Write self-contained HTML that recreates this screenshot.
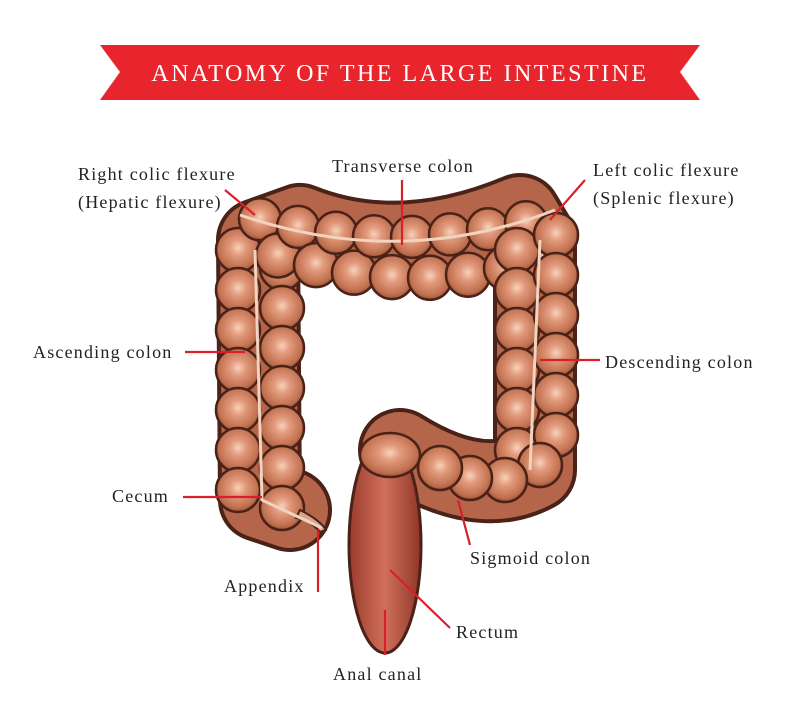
<!DOCTYPE html>
<html><head><meta charset="utf-8"><style>
html,body{margin:0;padding:0;background:#fff;}
svg{display:block}
text{font-family:"Liberation Serif",serif;font-size:18px;letter-spacing:1.2px;fill:#222}
</style></head><body>
<svg id="s" width="800" height="720" viewBox="0 0 800 720">
<defs>
<radialGradient id="g" cx="0.5" cy="0.45" r="0.6">
<stop offset="0" stop-color="#f6d2bc"/><stop offset="0.3" stop-color="#e29a7c"/><stop offset="0.75" stop-color="#c0704f"/><stop offset="1" stop-color="#8a4430"/>
</radialGradient>
<linearGradient id="rg" x1="0" x2="1"><stop offset="0" stop-color="#9b3b2c"/><stop offset="0.5" stop-color="#d0705a"/><stop offset="1" stop-color="#8f3527"/></linearGradient>
</defs>
<polygon points="100,45 700,45 680,72 700,100 100,100 120,72" fill="#e8242c"/>
<text x="400" y="81" text-anchor="middle" style="font-size:24px;fill:#fff;letter-spacing:2.5px">ANATOMY OF THE LARGE INTESTINE</text>
<g id="gut">
<path d="M290,510 L260,500 L258,240 L300,225 Q400,265 520,215 L535,240 L535,470 Q480,500 400,450" fill="none" stroke="#4a2218" stroke-width="84" stroke-linejoin="round" stroke-linecap="round"/>
<path d="M290,510 L260,500 L258,240 L300,225 Q400,265 520,215 L535,240 L535,470 Q480,500 400,450" fill="none" stroke="#b4654a" stroke-width="76" stroke-linejoin="round" stroke-linecap="round"/>
</g>
<g id="c"></g>
<path d="M300,510 Q320,520 326,530 L320,532 Q310,520 296,518Z" fill="#d8a48c" stroke="#4a2218" stroke-width="2"/>
<ellipse cx="385" cy="545" rx="36" ry="108" fill="url(#rg)" stroke="#4a2218" stroke-width="3"/>
<ellipse cx="390" cy="455" rx="30" ry="22" fill="url(#g)" stroke="#4a2218" stroke-width="2.5"/>
<g stroke="#f0d4c0" stroke-width="3" fill="none">
<path d="M240,215 Q400,270 555,210"/>
<path d="M255,250 L262,500 L322,528"/>
<path d="M540,240 L530,470"/>
</g>
<g stroke="#d9202a" stroke-width="2.2" fill="none">
<path d="M225,190 L255,215"/><path d="M402,180 L402,245"/><path d="M585,180 L550,220"/>
<path d="M185,352 L245,352"/><path d="M540,360 L600,360"/><path d="M183,497 L262,497"/>
<path d="M318,530 L318,592"/><path d="M458,500 L470,545"/><path d="M390,570 L450,628"/><path d="M385,610 L385,655"/>
</g>
<text x="78" y="180">Right colic flexure</text>
<text x="78" y="208">(Hepatic flexure)</text>
<text x="403" y="172" text-anchor="middle">Transverse colon</text>
<text x="593" y="176">Left colic flexure</text>
<text x="593" y="204">(Splenic flexure)</text>
<text x="33" y="358">Ascending colon</text>
<text x="605" y="368">Descending colon</text>
<text x="112" y="502">Cecum</text>
<text x="224" y="592">Appendix</text>
<text x="470" y="564">Sigmoid colon</text>
<text x="456" y="638">Rectum</text>
<text x="333" y="680">Anal canal</text>
</svg>
<script>
var g=document.getElementById('c'),ns='http://www.w3.org/2000/svg';
function c(x,y,r){var e=document.createElementNS(ns,'circle');e.setAttribute('cx',x);e.setAttribute('cy',y);e.setAttribute('r',r||22);e.setAttribute('fill','url(#g)');e.setAttribute('stroke','#4a2218');e.setAttribute('stroke-width','2.5');g.appendChild(e);}
for(var y=250;y<=500;y+=40){c(238,y,22);c(282,y+18,22);}
for(var x=260;x<=545;x+=38){var d=Math.sin((x-240)/320*Math.PI);c(x,215+d*22,21);c(x+18,250+d*28,22);}
for(var y=235;y<=470;y+=40){c(517,y+15,22);c(556,y,22);}
[[540,465],[505,480],[470,478],[440,468]].forEach(function(p){c(p[0],p[1],22);});
</script>
</body></html>
